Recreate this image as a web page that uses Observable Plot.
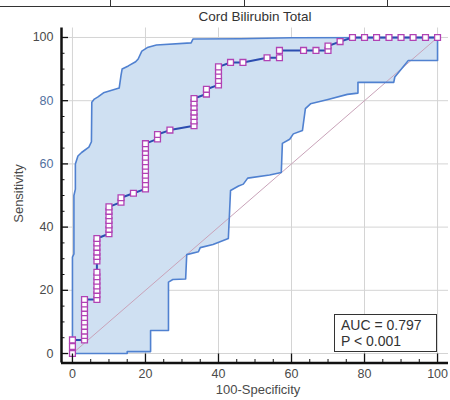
<!DOCTYPE html>
<html><head><meta charset="utf-8">
<script src="https://cdn.jsdelivr.net/npm/d3@7"></script>
<script src="https://cdn.jsdelivr.net/npm/@observablehq/plot@0.6"></script>
<style>
body{margin:0;background:#fff;}
#wrap{position:relative;width:450px;height:400px;overflow:hidden;font-family:"Liberation Sans",Arial,sans-serif;}
#title{position:absolute;left:30px;width:450px;top:9px;height:16px;line-height:16px;text-align:center;font-size:13.5px;color:#333;}
.hl{position:absolute;left:0;top:6px;width:450px;height:1px;background:#333;}
.vl{position:absolute;top:0;width:1px;height:6px;background:#333;}
#box{position:absolute;left:334px;top:314px;width:103px;height:38px;box-sizing:border-box;border:1.5px solid #333;background:#fff;padding:3px 0 0 6px;font-size:14px;line-height:15.5px;color:#333;}
#plot{position:absolute;left:0;top:0;}
</style></head><body>
<div id="wrap">
<div class="hl"></div><div class="vl" style="left:110px"></div><div class="vl" style="left:244px"></div><div class="vl" style="left:387px"></div>
<div id="plot"></div>
<div id="title"></div>
<div id="box"></div>
</div>
<script>
const titleText = "Cord Bilirubin Total";
const xLabel = "100-Specificity";
const yLabel = "Sensitivity";
const aucText = "AUC = 0.797";
const pText = "P < 0.001";

// ROC points (100-Specificity, Sensitivity)
const rocFpr = [0,0,0,
 3.3,3.3,3.3,3.3,3.3,3.3,3.3,3.3,3.3,3.3,
 6.7,6.7,6.7,6.7,6.7,6.7,6.7,6.7,6.7,6.7,6.7,6.7,6.7,
 10,10,10,10,10,10,10,
 13.3,13.3,16.7,
 20,20,20,20,20,20,20,20,20,20,20,
 23.3,23.3,26.7,
 33.3,33.3,33.3,33.3,33.3,33.3,33.3,
 36.7,36.7,
 40,40,40,40,40,
 43.3,46.7,53.3,56.7,56.7,63.3,66.7,70,70,73.3,
 76.7,80,83.3,86.7,90,93.3,96.7,100];
const rocSens = [0,2.2,4.3,
 4.3,5.7,7.1,8.6,10,11.4,12.9,14.3,15.7,17.1,
 17.1,18.6,20,21.4,22.9,24.3,25.7,29.3,30.7,32.1,33.6,35,36.4,
 37.9,39.3,40.7,42.1,43.6,45,46.4,
 47.9,49.3,50.7,
 52.1,53.6,55,56.4,57.9,59.3,60.7,62.1,63.6,65,66.4,
 67.9,69.3,70.7,
 72.1,73.6,75,76.4,77.9,79.3,80.7,
 82.1,83.6,
 85,86.4,87.9,89.3,90.7,
 92.1,92.1,93.6,93.6,95.9,95.9,95.9,95.9,97.3,98.7,
 100,100,100,100,100,100,100,100];

// 95% confidence bounds
const upperX = [0,0,0.4,0.4,0.8,0.8,1.5,2.5,4.5,5.2,5.3,6,7,8.5,12.8,13.3,13.6,15.3,17.3,18,19,20.5,23,32.5,33,46,60,100];
const upperY = [0,30.5,31.5,50,52,60,62.5,63.6,65.3,67,79.5,80.5,81.2,82.5,84,88,90,91,92.3,93.2,95.7,96.8,97.6,98.3,99.5,99.6,99.9,100];
const lowerX = [0,15,15,21.4,21.4,26.3,26.3,27.5,31,31.3,34.5,35,38.5,42.7,43.3,45.5,46.8,48,54,57.2,57.5,59.5,60.5,63,63.8,65.2,70,75.3,78.2,78.2,88,88.3,92,100,100];
const lowerY = [0,0,0.6,0.6,7.3,7.3,22.6,23.4,23.6,31.3,32.2,33.5,34.5,36.4,51.6,53,53.6,55.5,56.5,57.3,66.5,67.8,69.5,70.6,77.5,79,80.4,82,82.4,85.8,85.8,87.5,92.7,92.7,100];

const diagX = [0,100];
const diagY = [0,100];

const majorTicks = [0,20,40,60,80,100];
const minorTicks = [5,10,15,25,30,35,45,50,55,65,70,75,85,90,95];
const blueLabels = [60,80];
const grayYLabels = [0,20,40,100];

const roc = rocFpr.map((x,i)=>({x, y: rocSens[i]}));
const upper = upperX.map((x,i)=>({x, y: upperY[i]}));
const lower = lowerX.map((x,i)=>({x, y: lowerY[i]}));
const band = upper.concat(lower.slice().reverse());
const diag = diagX.map((x,i)=>({x, y: diagY[i]}));

const tickCol = "#111";
const labCol = "#4a4a4a";
const fs = 12.5;

const chart = Plot.plot({
  width: 450, height: 400,
  marginLeft: 61, marginRight: 2, marginTop: 27.5, marginBottom: 37.5,
  style: {fontFamily: '"Liberation Sans", Arial, sans-serif', background: "transparent"},
  x: {domain: [-3, 103]},
  y: {domain: [-3, 103]},
  marks: [
    Plot.ruleX(majorTicks, {stroke: "#d4d4d4", strokeWidth: 1}),
    Plot.ruleY(majorTicks, {stroke: "#d4d4d4", strokeWidth: 1}),
    Plot.line(band, {x: "x", y: "y", fill: "#cfe0f2", stroke: "none", curve: "linear"}),
    Plot.line(diag, {x: "x", y: "y", stroke: "#c9a3b9", strokeWidth: 1}),
    Plot.line(upper, {x: "x", y: "y", stroke: "#5081d0", strokeWidth: 1.6}),
    Plot.line(lower, {x: "x", y: "y", stroke: "#5081d0", strokeWidth: 1.6}),
    Plot.line(roc, {x: "x", y: "y", stroke: "#2c4db0", strokeWidth: 2}),
    Plot.dot(roc, {x: "x", y: "y", symbol: "square", r: 3.3, fill: "white", stroke: "#b142b4", strokeWidth: 1.3}),
    Plot.ruleX([-3], {stroke: tickCol, strokeWidth: 2.5}),
    Plot.ruleY([-3], {stroke: tickCol, strokeWidth: 2.5}),
    Plot.axisY(majorTicks, {tickSize: -7, tickFormat: () => "", label: null, stroke: tickCol, strokeWidth: 1.3}),
    Plot.axisY(minorTicks, {tickSize: -3.5, tickFormat: () => "", label: null, stroke: tickCol}),
    Plot.axisY(grayYLabels, {tickSize: 0, tickPadding: 8, label: null, fontSize: fs, fill: labCol}),
    Plot.axisY(blueLabels, {tickSize: 0, tickPadding: 8, label: null, fontSize: fs, fill: "#52709e"}),
    Plot.axisX(majorTicks, {tickSize: -9, tickFormat: () => "", label: null, stroke: tickCol, strokeWidth: 1.3}),
    Plot.axisX(minorTicks, {tickSize: -3.5, tickFormat: () => "", label: null, stroke: tickCol}),
    Plot.axisX(majorTicks, {tickSize: 0, tickPadding: 6, label: null, fontSize: fs, fill: labCol}),
    Plot.text([yLabel], {frameAnchor: "left", textAnchor: "middle", rotate: -90, dx: -43, dy: -2, fontSize: 13, fill: labCol}),
    Plot.text([xLabel], {frameAnchor: "bottom", dy: 30.5, dx: 3, fontSize: 13, fill: labCol})
  ]
});
document.getElementById("plot").appendChild(chart);
document.getElementById("title").textContent = titleText;
document.getElementById("box").innerHTML = aucText + "<br>" + pText;
</script>
</body></html>
